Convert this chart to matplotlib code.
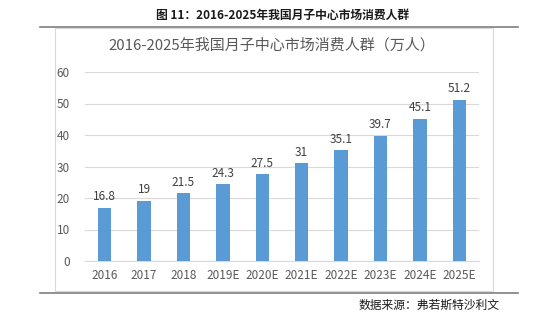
import matplotlib
matplotlib.use("Agg")
import matplotlib.pyplot as plt
from matplotlib.patches import Rectangle
from matplotlib.lines import Line2D

plt.rcParams['font.family'] = ['Noto Sans CJK SC', 'DejaVu Sans']

categories = ["2016", "2017", "2018", "2019E", "2020E", "2021E", "2022E", "2023E", "2024E", "2025E"]
values = [16.8, 19, 21.5, 24.3, 27.5, 31, 35.1, 39.7, 45.1, 51.2]
labels = ["16.8", "19", "21.5", "24.3", "27.5", "31", "35.1", "39.7", "45.1", "51.2"]
yticks = [0, 10, 20, 30, 40, 50, 60]

W, H = 554, 328
fig = plt.figure(figsize=(W/100, H/100), dpi=100)

def fx(x): return x / W
def fy(y): return 1 - y / H

# outer caption
fig.text(fx(283), fy(15), "图 11：2016-2025年我国月子中心市场消费人群", ha="center", va="center",
         fontsize=8.5, fontweight="bold", color="#1a1a1a")
fig.add_artist(Line2D([fx(40), fx(518)], [fy(27), fy(27)], color="#7f7f7f", lw=1.2))
fig.add_artist(Line2D([fx(40), fx(518)], [fy(293), fy(293)], color="#7f7f7f", lw=1.2))
fig.add_artist(Rectangle((fx(55), fy(291)), fx(493) - fx(55), fy(28) - fy(291),
                         fill=False, edgecolor="#D9D9D9", lw=0.8))
fig.text(fx(500), fy(305), "数据来源：弗若斯特沙利文", ha="right", va="center",
         fontsize=8.5, color="#1a1a1a")

# inner title
fig.text(fx(272), fy(45), "2016-2025年我国月子中心市场消费人群（万人）", ha="center", va="center",
         fontsize=10.8, color="#595959")

ax = fig.add_axes([fx(85), fy(261), fx(479) - fx(85), fy(72) - fy(261)])
x = range(len(categories))
ax.bar(x, values, width=0.34, color="#5B9BD5", zorder=3)
for xi, v, lab in zip(x, values, labels):
    ax.text(xi, v + 1.5, lab, ha="center", va="bottom", fontsize=8.5, color="#404040")

ax.set_ylim(0, 60)
ax.set_xlim(-0.5, len(categories) - 0.5)
ax.set_yticks(yticks)
ax.set_xticks(list(x))
ax.set_xticklabels(categories)
ax.tick_params(axis="both", length=0, labelsize=8.5, colors="#595959")
ax.tick_params(axis="y", pad=11)
ax.tick_params(axis="x", pad=6)
ax.grid(axis="y", color="#D9D9D9", lw=0.8, zorder=0)
for s in ax.spines.values():
    s.set_visible(False)
ax.spines["bottom"].set_visible(True)
ax.spines["bottom"].set_color("#D9D9D9")

fig.savefig("out.png", dpi=100)
